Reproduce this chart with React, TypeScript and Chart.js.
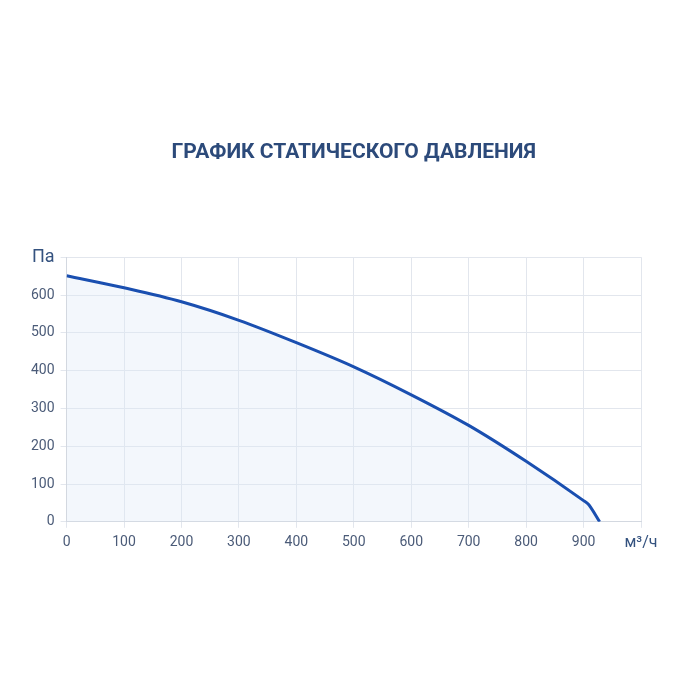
import React, { useRef, useEffect } from "react";
import { Chart, registerables } from "chart.js";

Chart.register(...registerables);

const flowRate = [0, 100, 200, 300, 400, 500, 600, 700, 800, 900, 908, 928];
const pressure = [651, 619, 582, 533, 474, 410, 336, 255, 160, 56, 47, 0];
const xUnit = "м³/ч";
const yUnit = "Па";
const title = "ГРАФИК СТАТИЧЕСКОГО ДАВЛЕНИЯ";

const App: React.FC = () => {
  const chartRef = useRef<HTMLCanvasElement | null>(null);
  const chartInstanceRef = useRef<Chart | null>(null);

  useEffect(() => {
    if (!chartRef.current) return;
    const ctx = chartRef.current.getContext("2d");
    if (!ctx) return;

    const tickColor = "#4b5b78";
    const unitColor = "#34527f";

    chartInstanceRef.current = new Chart(ctx, {
      type: "line",
      data: {
        datasets: [
          {
            data: flowRate.map((x, i) => ({ x, y: pressure[i] })),
            borderColor: "#1a4fb0",
            borderWidth: 3,
            backgroundColor: "rgba(222, 231, 245, 0.35)",
            fill: "origin",
            pointRadius: 0,
            cubicInterpolationMode: "monotone",
          },
        ],
      },
      options: {
        animation: false,
        responsive: true,
        maintainAspectRatio: false,
        layout: { padding: { top: 140, left: 25, right: 59, bottom: 141 } },
        scales: {
          x: {
            type: "linear",
            min: 0,
            max: 1000,
            ticks: {
              stepSize: 100,
              padding: 6,
              color: (c: any) => (c.tick && c.tick.value === 1000 ? unitColor : tickColor),
              font: (c: any) =>
                c.tick && c.tick.value === 1000
                  ? { family: "Roboto", size: 16 }
                  : { family: "Roboto", size: 14 },
              callback: (v: any) => (v === 1000 ? xUnit : String(v)),
            },
            grid: { color: "#e2e6ed", tickLength: 6 },
            border: { color: "#d3d8e0" },
          },
          y: {
            min: 0,
            max: 700,
            ticks: {
              stepSize: 100,
              padding: 6,
              color: (c: any) => (c.tick && c.tick.value === 700 ? unitColor : tickColor),
              font: (c: any) =>
                c.tick && c.tick.value === 700
                  ? { family: "Roboto", size: 18 }
                  : { family: "Roboto", size: 14 },
              callback: (v: any) => (v === 700 ? yUnit : String(v)),
            },
            grid: { color: "#e2e6ed", tickLength: 6 },
            border: { color: "#d3d8e0" },
          },
        },
        plugins: {
          legend: { display: false },
          tooltip: { enabled: false },
          title: {
            display: true,
            fullSize: false,
            text: title,
            color: "#2c4a7a",
            font: { family: "Roboto", size: 21, weight: "bold" },
            padding: { top: 0, bottom: 92 },
          },
        },
      },
    });

    return () => {
      if (chartInstanceRef.current) {
        chartInstanceRef.current.destroy();
      }
    };
  }, []);

  return (
    <div style={{ position: "fixed", top: 0, left: 0, width: 700, height: 700, background: "#fff" }}>
      <canvas ref={chartRef}></canvas>
    </div>
  );
};

export default App;
